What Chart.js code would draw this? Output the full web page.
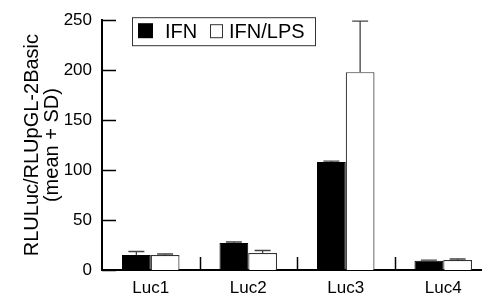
<!DOCTYPE html>
<html>
<head>
<meta charset="utf-8">
<script src="https://cdn.jsdelivr.net/npm/chart.js@4.4.1/dist/chart.umd.min.js"></script>
<style>
  html, body { margin: 0; padding: 0; background: #fff; overflow: hidden; }
  #wrap { width: 492px; height: 295px; }
</style>
</head>
<body>
<div id="wrap"><canvas id="chart" width="492" height="295"></canvas></div>
<script>
// --------------------
// Data
// --------------------
const categories = ['Luc1', 'Luc2', 'Luc3', 'Luc4'];
const ifnMean = [15, 27, 108, 9.3];
const ifnSd = [3.5, 1, 1, 0.5];
const lpsMean = [15, 17, 198, 10];
const lpsSd = [1, 2.5, 51, 1];
const yTicks = [0, 50, 100, 150, 200, 250];
const seriesNames = ['IFN', 'IFN/LPS'];

const FONT = "'Liberation Sans', Arial, Helvetica, sans-serif";

// --------------------
// Error bars (mean + SD)
// --------------------
const errorBars = {
    id: 'errorBars',
    afterDatasetsDraw(chart) {
        const ctx = chart.ctx;
        const yScale = chart.scales.y;
        const sds = [ifnSd, lpsSd];
        ctx.save();
        ctx.strokeStyle = '#444';
        ctx.lineWidth = 1.3;
        chart.data.datasets.forEach((ds, di) => {
            const meta = chart.getDatasetMeta(di);
            meta.data.forEach((bar, i) => {
                const top = yScale.getPixelForValue(ds.data[i] + sds[di][i]);
                ctx.beginPath();
                ctx.moveTo(bar.x, bar.y);
                ctx.lineTo(bar.x, top);
                ctx.moveTo(bar.x - 8, top);
                ctx.lineTo(bar.x + 8, top);
                ctx.stroke();
            });
        });
        ctx.restore();
    }
};

// --------------------
// Inward ticks + category separators + legend box
// --------------------
const decorations = {
    id: 'decorations',
    afterDraw(chart) {
        const ctx = chart.ctx;
        const area = chart.chartArea;
        const x = chart.scales.x;
        const y = chart.scales.y;
        ctx.save();
        ctx.strokeStyle = '#000';
        ctx.lineWidth = 1.5;
        // y ticks pointing into the plot
        y.ticks.forEach((t, i) => {
            const py = Math.round(y.getPixelForTick(i)) + 0.5;
            ctx.beginPath();
            ctx.moveTo(area.left, py);
            ctx.lineTo(area.left + 14, py);
            ctx.stroke();
        });
        // short separators between categories
        for (let i = 0; i < categories.length - 1; i++) {
            const px = Math.round((x.getPixelForValue(i) + x.getPixelForValue(i + 1)) / 2) + 0.5;
            ctx.beginPath();
            ctx.moveTo(px, area.bottom);
            ctx.lineTo(px, area.bottom - 13);
            ctx.stroke();
        }
        // legend
        const lx = area.left + 30, ly = area.top - 3;
        ctx.lineWidth = 1;
        ctx.strokeStyle = '#333';
        ctx.strokeRect(lx + 0.5, ly + 0.5, 183, 28);
        ctx.fillStyle = '#000';
        ctx.fillRect(lx + 6, ly + 6, 15, 15);
        ctx.strokeRect(lx + 78.5, ly + 7.5, 12, 13);
        ctx.font = '20px ' + FONT;
        ctx.textBaseline = 'alphabetic';
        ctx.fillText(seriesNames[0], lx + 33, ly + 21);
        ctx.fillText(seriesNames[1], lx + 97, ly + 21);
        ctx.restore();
    }
};

// --------------------
// Render chart
// --------------------
new Chart(document.getElementById('chart'), {
    type: 'bar',
    data: {
        labels: categories,
        datasets: [
            {
                label: seriesNames[0],
                data: ifnMean,
                backgroundColor: '#000',
                borderColor: '#000',
                borderWidth: 1
            },
            {
                label: seriesNames[1],
                data: lpsMean,
                backgroundColor: '#fff',
                borderColor: '#333',
                borderWidth: 1.2
            }
        ]
    },
    options: {
        responsive: false,
        animation: false,
        events: [],
        layout: { padding: { top: 20, left: 0, right: 0, bottom: 0 } },
        datasets: { bar: { categoryPercentage: 0.59, barPercentage: 1 } },
        plugins: { legend: { display: false }, tooltip: { enabled: false } },
        scales: {
            x: {
                grid: { display: false, drawTicks: false },
                border: { display: true, color: '#000', width: 2 },
                ticks: { color: '#000', font: { family: FONT, size: 17 }, padding: 8 },
                afterFit(scale) { scale.height = 25; }
            },
            y: {
                min: 0,
                max: 250,
                afterBuildTicks(scale) { scale.ticks = yTicks.map(v => ({ value: v })); },
                grid: { display: false, drawTicks: false },
                border: { display: true, color: '#000', width: 2 },
                ticks: { color: '#000', font: { family: FONT, size: 17 }, padding: 10 },
                title: {
                    display: true,
                    text: ['RLULuc/RLUpGL-2Basic', '(mean + SD)'],
                    color: '#000',
                    font: { family: FONT, size: 20, lineHeight: 1.0 },
                    padding: { top: 22, bottom: 0 }
                },
                afterFit(scale) { scale.width = 102; }
            }
        }
    },
    plugins: [errorBars, decorations]
});
</script>
</body>
</html>
